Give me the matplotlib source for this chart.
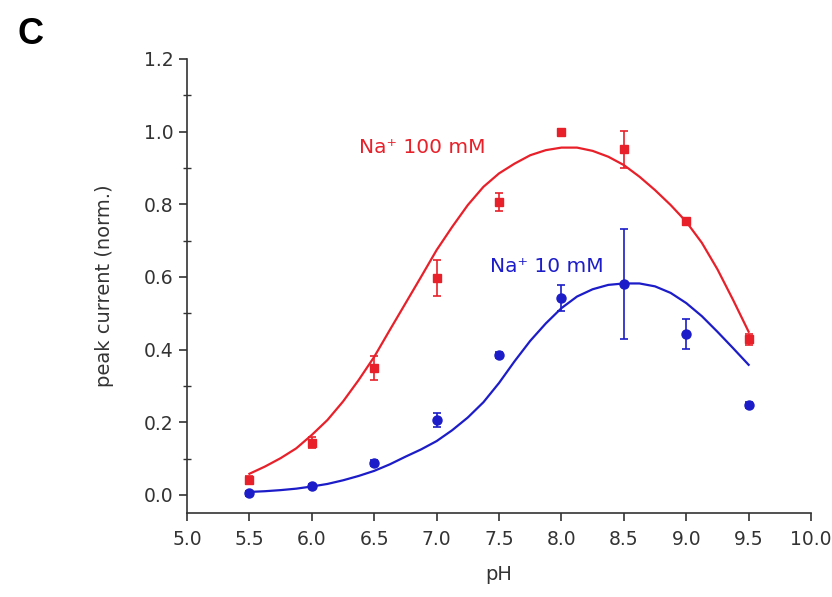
import matplotlib
matplotlib.use("Agg")
import matplotlib.pyplot as plt
from matplotlib.ticker import MultipleLocator, FormatStrFormatter

plt.rcParams['font.family'] = ['DejaVu Sans']

# measured data
ph = [5.5, 6.0, 6.5, 7.0, 7.5, 8.0, 8.5, 9.0, 9.5]
na100 = [0.041, 0.143, 0.349, 0.597, 0.807, 1.0, 0.952, 0.753, 0.428]
na100_err = [0.01, 0.015, 0.032, 0.049, 0.025, 0.006, 0.051, 0.01, 0.015]
na10 = [0.004, 0.025, 0.087, 0.206, 0.385, 0.542, 0.58, 0.443, 0.248]
na10_err = [0.006, 0.006, 0.008, 0.02, 0.008, 0.037, 0.152, 0.041, 0.008]

# fitted curves
fit_ph = [5.5, 5.625, 5.75, 5.875, 6.0, 6.125, 6.25, 6.375, 6.5, 6.625, 6.75,
          6.875, 7.0, 7.125, 7.25, 7.375, 7.5, 7.625, 7.75, 7.875, 8.0, 8.125,
          8.25, 8.375, 8.5, 8.625, 8.75, 8.875, 9.0, 9.125, 9.25, 9.375, 9.5]
fit100 = [0.058, 0.078, 0.101, 0.128, 0.165, 0.206, 0.257, 0.316, 0.38, 0.454,
          0.527, 0.600, 0.674, 0.738, 0.798, 0.848, 0.885, 0.912, 0.935, 0.949,
          0.956, 0.956, 0.947, 0.931, 0.908, 0.876, 0.839, 0.798, 0.752, 0.694,
          0.621, 0.537, 0.449]
fit10 = [0.008, 0.010, 0.013, 0.017, 0.023, 0.030, 0.040, 0.052, 0.066, 0.084,
         0.105, 0.125, 0.148, 0.178, 0.213, 0.255, 0.308, 0.368, 0.424, 0.472,
         0.514, 0.546, 0.566, 0.578, 0.582, 0.582, 0.574, 0.556, 0.528, 0.492,
         0.449, 0.404, 0.358]

red = '#e8202a'
blue = '#1c1cc8'
dark = '#333333'

fig = plt.figure(figsize=(8.32, 5.97), dpi=100)
ax = fig.add_axes([0.2248, 0.1407, 0.75, 0.7605])

ax.plot(fit_ph, fit100, color=red, lw=1.6, zorder=2)
ax.plot(fit_ph, fit10, color=blue, lw=1.6, zorder=2)
ax.errorbar(ph, na100, yerr=na100_err, fmt='s', color=red, ms=6,
            capsize=3, elinewidth=1.2, capthick=1.2, zorder=3)
ax.errorbar(ph, na10, yerr=na10_err, fmt='o', color=blue, ms=6.5,
            capsize=3, elinewidth=1.2, capthick=1.2, zorder=3)

ax.text(6.38, 0.955, 'Na\u207a 100 mM', color=red, fontsize=14.5, va='center', ha='left')
ax.text(7.43, 0.628, 'Na\u207a 10 mM', color=blue, fontsize=14.5, va='center', ha='left')

ax.set_xlim(5.0, 10.0)
ax.set_ylim(-0.05, 1.2)
ax.xaxis.set_major_locator(MultipleLocator(0.5))
ax.xaxis.set_major_formatter(FormatStrFormatter('%.1f'))
ax.yaxis.set_major_locator(MultipleLocator(0.2))
ax.yaxis.set_minor_locator(MultipleLocator(0.1))
ax.yaxis.set_major_formatter(FormatStrFormatter('%.1f'))

for s in ['top', 'right']:
    ax.spines[s].set_visible(False)
for s in ['left', 'bottom']:
    ax.spines[s].set_linewidth(1.2)
    ax.spines[s].set_color(dark)

ax.tick_params(axis='both', which='major', direction='out', length=6, width=1.2,
               color=dark, labelsize=13.5, labelcolor=dark)
ax.tick_params(axis='x', which='major', pad=6)
ax.tick_params(axis='y', which='minor', direction='inout', length=6, width=1.0,
               color=dark)

ax.set_xlabel('pH', fontsize=14, color=dark, labelpad=12)
ax.set_ylabel('peak current (norm.)', fontsize=14, color=dark, labelpad=22)

fig.text(0.021, 0.972, 'C', fontsize=26, fontweight='bold', va='top', ha='left',
         family='Liberation Sans')

fig.savefig('out.png', dpi=100)
